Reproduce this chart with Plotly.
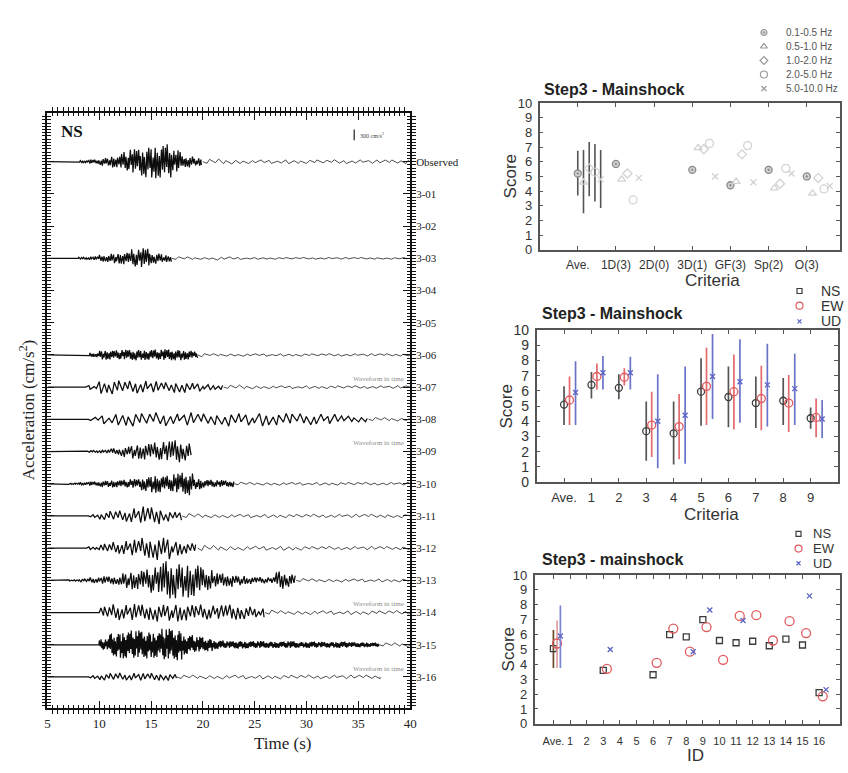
import numpy as np
import plotly.graph_objects as go

# ------------------------------------------------------------------
# Left: NS acceleration records, observed vs. submitted simulations
# ------------------------------------------------------------------
TRACE_LABELS = ["Observed"] + [f"3-{i:02d}" for i in range(1, 17)]
T_START, T_END = 5, 40
CM_PER_UNIT = 900          # cm/s^2 represented by one trace spacing
SCALE_BAR = 300            # cm/s^2

# peak amplitude (cm/s^2) in 1-s bins, 5-6 s ... 39-40 s
ENV_OBS = [0, 0, 0, 30, 60, 110, 160, 270, 350, 430, 460, 490, 320, 160, 110,
           80, 80, 70, 60, 50, 55, 50, 60, 55, 50, 55, 50, 55, 60, 50, 55, 50, 55, 50, 55]
ENV_303 = [0, 0, 10, 30, 50, 100, 140, 170, 250, 280, 150, 100, 50, 40, 30, 30, 45, 45, 30] + [25] * 16
ENV_306 = [0, 0, 0, 0, 60, 130, 130, 140, 150, 140, 150, 160, 150, 130, 90, 40] + [35] * 19
ENV_307 = [0, 0, 0, 0, 60, 180, 200, 170, 190, 180, 160, 140, 170, 150, 120, 80, 70, 60, 60, 50, 45] + [40] * 14
ENV_308 = [0, 0, 0, 0, 60, 130, 160, 200, 200, 180, 190, 200, 160, 190, 170, 160, 170, 190, 180, 170,
           190, 180, 170, 180, 160, 170, 150, 140, 110, 90, 80, 60, 50, 50, 40]
ENV_309 = [0, 0, 0, 10, 30, 50, 90, 150, 200, 230, 250, 280, 330, 250] + [0] * 21
ENV_310 = [0, 0, 20, 40, 60, 90, 100, 110, 130, 200, 250, 220, 280, 320, 150, 110, 100, 90, 50] + [40] * 16
ENV_311 = [0, 0, 0, 0, 40, 110, 150, 170, 220, 260, 250, 150, 120, 80, 60] + [50] * 20
ENV_312 = [0, 0, 0, 0, 40, 130, 170, 210, 230, 300, 330, 320, 200, 150, 120, 90, 80, 70] + [60] * 7 + [50] * 10
ENV_313 = [0, 0, 20, 50, 80, 110, 120, 220, 250, 300, 380, 560, 500, 480, 460, 300, 200, 180, 140, 100,
           90, 80, 260, 180, 60] + [45] * 10
ENV_314 = [0, 0, 0, 0, 0, 180, 230, 220, 240, 230, 250, 240, 250, 230, 220, 210, 200, 230, 220, 180,
           130, 80] + [55] * 13
ENV_315 = [0, 0, 0, 0, 0, 150, 330, 380, 400, 380, 360, 450, 430, 270, 220, 180, 120, 100, 110, 100,
           100, 90, 90, 100, 80, 90, 80, 80, 90, 70, 70, 60, 60, 55, 55]
ENV_316 = [0, 0, 0, 0, 40, 90, 110, 100, 110, 100, 110, 100, 80] + [55] * 22

RECORDS = {
    "Observed": ENV_OBS, "3-03": ENV_303, "3-06": ENV_306, "3-07": ENV_307, "3-08": ENV_308,
    "3-09": ENV_309, "3-10": ENV_310, "3-11": ENV_311, "3-12": ENV_312, "3-13": ENV_313,
    "3-14": ENV_314, "3-15": ENV_315, "3-16": ENV_316,
}
# dominant half period of the strong motion (s) and start of the coda (s)
HALF_PERIOD = {"Observed": 0.1, "3-03": 0.11, "3-06": 0.09, "3-07": 0.25, "3-08": 0.33, "3-09": 0.14,
               "3-10": 0.1, "3-11": 0.22, "3-12": 0.2, "3-13": 0.13, "3-14": 0.2, "3-15": 0.07, "3-16": 0.22}
CODA_START = {"Observed": 20, "3-03": 17, "3-06": 19.5, "3-07": 22, "3-08": 36, "3-09": 40,
              "3-10": 23, "3-11": 18, "3-12": 19.5, "3-13": 29, "3-14": 26, "3-15": 37, "3-16": 17.5}
CODA_HALF_PERIOD = 0.4
RECORD_END = {"3-09": 18.9, "3-16": 37.1}
# relative heights and spacings of successive half-cycles
PEAK_PATTERN = [1.0, 0.55, 0.85, 0.35, 0.95, 0.7, 0.45, 0.9, 0.6, 0.8, 0.3, 1.0, 0.65, 0.5, 0.9,
                0.4, 0.75, 0.95, 0.25, 0.6, 0.85]
SPACING_PATTERN = [1.0, 0.6, 1.4, 0.8, 1.2, 0.5, 1.5, 0.9, 1.1, 0.7, 1.3]
FLAGGED = ["3-07", "3-09", "3-14", "3-16"]

# ------------------------------------------------------------------
# Right top: score by criteria and frequency band
# ------------------------------------------------------------------
CRITERIA_A = ["Ave.", "1D(3)", "2D(0)", "3D(1)", "GF(3)", "Sp(2)", "O(3)"]
BANDS = ["0.1-0.5 Hz", "0.5-1.0 Hz", "1.0-2.0 Hz", "2.0-5.0 Hz", "5.0-10.0 Hz"]
BAND_SCORES = [
    [5.2, 5.85, None, 5.45, 4.4, 5.45, 5.0],
    [4.6, 4.8, None, 6.95, 4.65, 4.2, 3.85],
    [5.55, 5.2, None, 6.85, 6.5, 4.5, 4.9],
    [5.3, 3.4, None, 7.25, 7.1, 5.55, 4.15],
    [4.8, 4.9, None, 5.0, 4.6, 5.2, 4.35],
]
BAND_AVE_LO = [3.7, 2.5, 3.65, 3.3, 2.85]
BAND_AVE_HI = [6.75, 6.8, 7.35, 7.2, 6.8]

# ------------------------------------------------------------------
# Right middle: score by criterion and component
# ------------------------------------------------------------------
CRITERIA_B = ["Ave."] + [str(i) for i in range(1, 10)]
NS_B = [5.1, 6.4, 6.2, 3.35, 3.2, 5.95, 5.6, 5.2, 5.35, 4.2]
NS_B_LO = [3.75, 5.5, 5.45, 1.4, 1.15, 3.7, 3.6, 3.55, 3.75, 3.5]
NS_B_HI = [6.3, 7.25, 7.1, 5.3, 5.3, 8.15, 7.6, 6.95, 6.85, 4.9]
EW_B = [5.4, 6.95, 6.9, 3.75, 3.65, 6.3, 5.95, 5.5, 5.2, 4.25]
EW_B_LO = [3.75, 6.1, 6.35, 1.65, 1.5, 3.75, 3.45, 3.4, 3.3, 2.95]
EW_B_HI = [6.95, 7.8, 7.5, 5.95, 5.8, 8.85, 8.4, 7.65, 7.05, 5.5]
UD_B = [5.9, 7.2, 7.2, 4.0, 4.4, 6.95, 6.6, 6.4, 6.15, 4.15]
UD_B_LO = [3.75, 6.1, 6.1, 0.9, 1.2, 4.15, 3.9, 3.65, 3.75, 2.9]
UD_B_HI = [7.95, 8.3, 8.25, 7.1, 7.6, 9.75, 9.4, 9.1, 8.45, 5.4]

# ------------------------------------------------------------------
# Right bottom: score by submission ID and component
# ------------------------------------------------------------------
IDS_C = ["Ave."] + [str(i) for i in range(1, 17)]
NS_C = [5.05, None, None, 3.6, None, None, 3.3, 6.0, 5.85, 7.0, 5.6, 5.45, 5.55, 5.25, 5.7, 5.3, 2.1]
EW_C = [5.4, None, None, 3.7, None, None, 4.1, 6.4, 4.85, 6.5, 4.3, 7.25, 7.3, 5.6, 6.9, 6.1, 1.85]
UD_C = [5.9, None, None, 5.0, None, None, None, None, 4.85, 7.65, None, 6.95, None, None, None, 8.6, 2.3]

W, H = 848, 773
SERIF = "Liberation Serif, Times New Roman, serif"
SANS = "Liberation Sans Narrow, Arial Narrow, Liberation Sans, Arial, sans-serif"
NS_COL, EW_COL, UD_COL = "#3c3c3c", "#e05a5e", "#5a64c4"
GREY = "#8a8a8a"


def px_x(p):
    return p / W


def px_y(p):
    return 1 - p / H


fig = go.Figure()


def half_cycles(t0, t1, step):
    """Times of successive half-cycle peaks between t0 and t1."""
    out, t, i = [], t0, 0
    while t < t1:
        out.append(t)
        t += step * SPACING_PATTERN[i % len(SPACING_PATTERN)]
        i += 1
    return np.array(out)


# ---------------- seismograms ----------------
for label, env in RECORDS.items():
    k = TRACE_LABELS.index(label)
    end = RECORD_END.get(label, T_END)
    cs = min(CODA_START[label], end)
    env_arr = np.array(env, dtype=float)
    parts = [(half_cycles(T_START, cs, HALF_PERIOD[label]), 1.25, "#0d0d0d"),
             (np.append(half_cycles(cs, end, CODA_HALF_PERIOD), end), 0.9, "#3a3a3a")]
    for t, width, colour in parts:
        if len(t) == 0:
            continue
        n = len(t)
        idx = np.clip(np.floor(t - T_START).astype(int), 0, len(env_arr) - 1)
        pat = np.array(PEAK_PATTERN)[np.arange(n) % len(PEAK_PATTERN)]
        sign = np.where(np.arange(n) % 2 == 0, 1.0, -1.0)
        y = -k + sign * env_arr[idx] * pat / CM_PER_UNIT
        y[0] = -k
        if t[-1] == end:
            y[-1] = -k
        fig.add_trace(go.Scatter(x=t, y=y, mode="lines", line=dict(color=colour, width=width),
                                 xaxis="x", yaxis="y", hoverinfo="skip"))

# scale bar drawn in acceleration units (on the labelled right-hand axis)
bar_base = 0.67
fig.add_trace(go.Scatter(x=[34.6, 34.6], y=[bar_base, bar_base + SCALE_BAR / CM_PER_UNIT],
                         mode="lines", line=dict(color="#222", width=1.2), xaxis="x", yaxis="y6"))
# empty traces that register the major-tick axes of the record frame
for xa, ya in [("x", "y7"), ("x6", "y"), ("x7", "y")]:
    fig.add_trace(go.Scatter(x=[None], y=[None], xaxis=xa, yaxis=ya, showlegend=False))

# ---------------- panel A ----------------
band_offsets = [0.0, 0.15, 0.3, 0.45, 0.6]
band_symbols = ["circle-dot", "triangle-up-open", "diamond-open", "circle-open", "x-thin-open"]
band_sizes = [7, 7, 7, 8, 6]
for b, name in enumerate(BANDS):
    xs, ys = [], []
    for c, v in enumerate(BAND_SCORES[b]):
        if v is not None:
            xs.append(c + band_offsets[b])
            ys.append(v)
    err_up = [BAND_AVE_HI[b] - BAND_SCORES[b][0]] + [0] * (len(ys) - 1)
    err_dn = [BAND_SCORES[b][0] - BAND_AVE_LO[b]] + [0] * (len(ys) - 1)
    fig.add_trace(go.Scatter(
        x=xs, y=ys, mode="markers", xaxis="x2", yaxis="y2",
        marker=dict(symbol=band_symbols[b], size=band_sizes[b], color="#d2d2d2",
                    line=dict(color=GREY, width=1.3)),
        error_y=dict(type="data", symmetric=False, array=err_up, arrayminus=err_dn,
                     width=0, thickness=1.6, color="#555555")))


def component_trace(vals, lo, hi, offset, symbol, size, color, xa, ya, bar_color):
    xs, ys, up, dn = [], [], [], []
    for i, v in enumerate(vals):
        if v is None:
            continue
        xs.append(i + offset)
        ys.append(v)
        if lo is not None and i < len(lo) and lo[i] is not None:
            up.append(hi[i] - v)
            dn.append(v - lo[i])
        else:
            up.append(0)
            dn.append(0)
    return go.Scatter(
        x=xs, y=ys, mode="markers", xaxis=xa, yaxis=ya,
        marker=dict(symbol=symbol, size=size, color=color, line=dict(color=color, width=1.3)),
        error_y=dict(type="data", symmetric=False, array=up, arrayminus=dn,
                     width=0, thickness=1.7, color=bar_color))


# ---------------- panel B ----------------
fig.add_trace(component_trace(NS_B, NS_B_LO, NS_B_HI, 0.0, "circle-open", 7, NS_COL, "x3", "y3", "#555555"))
fig.add_trace(component_trace(EW_B, EW_B_LO, EW_B_HI, 0.2, "circle-open", 8, EW_COL, "x3", "y3", "#e36a6d"))
fig.add_trace(component_trace(UD_B, UD_B_LO, UD_B_HI, 0.42, "x-thin-open", 5, UD_COL, "x3", "y3", "#6a73c8"))

# ---------------- panel C (Ave. bars repeat the middle panel's Ave. ranges) ----------------
fig.add_trace(component_trace(NS_C, NS_B_LO[:1], NS_B_HI[:1], 0.0, "square-open", 6, NS_COL, "x4", "y4", "#6b4a2a"))
fig.add_trace(component_trace(EW_C, EW_B_LO[:1], EW_B_HI[:1], 0.22, "circle-open", 9, EW_COL, "x4", "y4", "#e3a0a2"))
fig.add_trace(component_trace(UD_C, UD_B_LO[:1], UD_B_HI[:1], 0.42, "x-thin-open", 5, UD_COL, "x4", "y4", "#7c86d4"))

# ---------------- legends (drawn on a full-page overlay axis) ----------------
leg_items = [
    # (x, y, symbol, size, color, text, text_x, font size, text colour)
    *[(770, 25 + 14.3 * i, band_symbols[i], band_sizes[i] - 1, "#9a9a9a", BANDS[i], 790, 10, "#555")
      for i in range(5)],
    (806, 289, "square-open", 5, NS_COL, "NS", 826, 14, "#333"),
    (806, 304, "circle-open", 7, EW_COL, "EW", 826, 14, "#333"),
    (806, 320, "x-thin-open", 4, UD_COL, "UD", 826, 14, "#333"),
    (805, 537, "square-open", 5, NS_COL, "NS", 818, 13, "#333"),
    (805, 552, "circle-open", 7, EW_COL, "EW", 818, 13, "#333"),
    (805, 567, "x-thin-open", 4, UD_COL, "UD", 818, 13, "#333"),
]
annotations = []
for (lx, ly, sym, sz, col, txt, tx, fs, tc) in leg_items:
    fig.add_trace(go.Scatter(x=[lx], y=[ly], mode="markers", xaxis="x5", yaxis="y5", cliponaxis=False,
                             marker=dict(symbol=sym, size=sz, color="#d2d2d2" if sym == "circle-dot" else col,
                                         line=dict(color=col, width=1.2))))
    annotations.append(dict(x=px_x(tx), y=px_y(ly), xref="paper", yref="paper", text=txt, showarrow=False,
                            xanchor="left", yanchor="middle", font=dict(family=SANS, size=fs, color=tc)))


def centred(tx, ty, text, size, family, color, angle=0, xanchor="center"):
    return dict(x=px_x(tx), y=px_y(ty), xref="paper", yref="paper", text=text, textangle=angle,
                showarrow=False, xanchor=xanchor, yanchor="middle",
                font=dict(family=family, size=size, color=color))


# ---------------- text ----------------
annotations += [
    centred(25, 411, "Acceleration (cm/s<sup>2</sup>)", 17, SERIF, "#222", angle=-90),
    centred(283, 751, "Time (s)", 17, SERIF, "#222"),
    centred(57, 126, "<b>NS</b>", 17, SERIF, "#111", xanchor="left"),
    dict(x=35.0, y=bar_base + SCALE_BAR / CM_PER_UNIT / 2, xref="x", yref="y6",
         text=f"{SCALE_BAR} cm/s<sup>2</sup>", showarrow=False, xanchor="left", yanchor="middle",
         font=dict(family=SERIF, size=6, color="#444")),
]
for lab in FLAGGED:
    k = TRACE_LABELS.index(lab)
    annotations.append(dict(x=39.6, y=-k + 0.26, xref="x", yref="y6", text="Waveform in time",
                            showarrow=False, xanchor="right", yanchor="middle",
                            font=dict(family=SERIF, size=7, color="#8c8c8c")))

for (tx, ty, txt) in [(545, 83, "Step3 - Mainshock"), (543, 312, "Step3 - Mainshock"),
                      (543, 563, "Step3 - mainshock")]:
    annotations.append(centred(tx, ty, f"<b>{txt}</b>", 16, SANS, "#222", xanchor="left"))
for (tx, ty, txt, ang) in [(718, 278, "Criteria", 0), (513, 172, "Score", -90),
                           (717, 517, "Criteria", 0), (510, 407, "Score", -90),
                           (701, 763, "ID", 0), (511, 655, "Score", -90)]:
    annotations.append(centred(tx, ty, txt, 17, SANS, "#333", angle=ang))

# ---------------- axes ----------------
frame = dict(showline=True, mirror="allticks", ticks="inside", showgrid=False, zeroline=False)
right_frame = dict(frame, linecolor="#555", linewidth=1.6, tickcolor="#555", ticklen=4, tickwidth=1.2,
                   tickangle=0, ticklabelstandoff=3)
y_range_left = [-16.97, 1.52]
left_x_domain = [px_x(45), px_x(412)]
left_y_domain = [px_y(715), px_y(107)]
major_ticks = dict(showline=False, showgrid=False, zeroline=False, ticks="inside", ticklen=7,
                   tickwidth=1.3, tickcolor="#111")
trace_positions = [-k for k in range(len(TRACE_LABELS))]

fig.update_layout(
    width=W, height=H, margin=dict(l=0, r=0, t=0, b=0),
    paper_bgcolor="white", plot_bgcolor="rgba(0,0,0,0)", showlegend=False,
    annotations=annotations,
    # record frame: fine ticks on the main axes, longer ticks on overlaid axes
    xaxis=dict(frame, domain=left_x_domain, range=[T_START, T_END], anchor="y",
               tickmode="linear", tick0=5, dtick=0.5, showticklabels=False,
               linecolor="#111", linewidth=2, tickcolor="#111", ticklen=3.5, tickwidth=1),
    xaxis6=dict(major_ticks, domain=left_x_domain, range=[T_START, T_END], anchor="y", overlaying="x",
                side="bottom", tickmode="linear", tick0=5, dtick=5, ticklabelstandoff=6,
                tickfont=dict(family=SERIF, size=13, color="#222")),
    xaxis7=dict(major_ticks, domain=left_x_domain, range=[T_START, T_END], anchor="y", overlaying="x",
                side="top", tickmode="linear", tick0=5, dtick=5, showticklabels=False),
    yaxis=dict(frame, domain=left_y_domain, range=y_range_left, anchor="x",
               tickmode="linear", tick0=0, dtick=0.1, showticklabels=False,
               linecolor="#111", linewidth=2, tickcolor="#111", ticklen=3.5, tickwidth=1),
    yaxis7=dict(major_ticks, domain=left_y_domain, range=y_range_left, anchor="x", overlaying="y",
                side="left", tickmode="array", tickvals=trace_positions, showticklabels=False),
    yaxis6=dict(major_ticks, domain=left_y_domain, range=y_range_left, anchor="x", overlaying="y",
                side="right", tickmode="array", tickvals=trace_positions, ticktext=TRACE_LABELS,
                ticklabelstandoff=5, tickfont=dict(family=SERIF, size=11, color="#222")),
    xaxis2=dict(right_frame, domain=[px_x(543), px_x(847)], range=[-1, 6.87], anchor="y2",
                tickvals=list(range(len(CRITERIA_A))), ticktext=CRITERIA_A,
                tickfont=dict(family=SANS, size=12, color="#333")),
    yaxis2=dict(right_frame, domain=[px_y(247), px_y(97)], range=[0, 10], dtick=1, anchor="x2",
                tickfont=dict(family=SANS, size=13, color="#333")),
    xaxis3=dict(right_frame, domain=[px_x(540), px_x(845)], range=[-1, 10], anchor="y3",
                tickvals=list(range(len(CRITERIA_B))), ticktext=CRITERIA_B,
                tickfont=dict(family=SANS, size=13, color="#333")),
    yaxis3=dict(right_frame, domain=[px_y(484), px_y(329)], range=[0, 10], dtick=1, anchor="x3",
                tickfont=dict(family=SANS, size=14, color="#333")),
    xaxis4=dict(right_frame, domain=[px_x(538), px_x(847)], range=[-1.13, 17.26], anchor="y4",
                tickvals=list(range(len(IDS_C))), ticktext=IDS_C, ticklabelstandoff=6,
                tickfont=dict(family=SANS, size=11, color="#333")),
    yaxis4=dict(right_frame, domain=[px_y(731), px_y(579)], range=[0, 10], dtick=1, anchor="x4",
                tickfont=dict(family=SANS, size=13, color="#333")),
    xaxis5=dict(domain=[0, 1], range=[0, W], visible=False, anchor="y5", fixedrange=True),
    yaxis5=dict(domain=[0, 1], range=[H, 0], visible=False, anchor="x5", fixedrange=True),
)

fig.write_html("out.html")
